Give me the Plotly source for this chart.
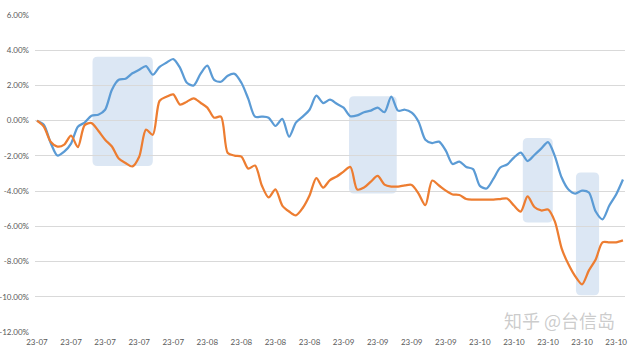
import plotly.graph_objects as go

# ---- data (percent) ----
series_a = [0.00, -0.23, -1.25, -1.98, -1.76, -1.30, -0.34, -0.11, 0.28, 0.34,
            0.62, 1.76, 2.32, 2.38, 2.69, 2.89, 3.10, 2.61, 3.06, 3.29,
            3.50, 3.00, 2.15, 2.00, 2.66, 3.12, 2.32, 2.21, 2.55, 2.66,
            2.15, 1.25, 0.23, 0.23, 0.17, -0.30, 0.10, -0.91, -0.11, 0.23,
            0.62, 1.42, 1.00, 1.19, 0.96, 0.74, 0.25, 0.30, 0.48, 0.57,
            0.74, 0.48, 1.36, 0.57, 0.62, 0.45, -0.06, -1.08, -1.27, -1.19,
            -1.70, -2.46, -2.32, -2.63, -2.75, -3.70, -3.85, -3.29, -2.66, -2.49,
            -2.10, -1.81, -2.29, -1.95, -1.59, -1.22, -2.01, -3.23, -3.91, -4.14,
            -3.97, -4.08, -5.16, -5.60, -4.82, -4.19, -3.34]
series_b = [0.00, -0.34, -1.19, -1.47, -1.36, -0.85, -1.50, -0.25, -0.14, -0.57,
            -1.08, -1.47, -2.15, -2.40, -2.60, -2.05, -0.51, -0.80, 1.13, 1.36,
            1.49, 0.91, 1.08, 1.27, 1.02, 0.74, 0.17, 0.23, -1.84, -1.98,
            -2.04, -2.72, -2.55, -3.68, -4.36, -3.90, -4.82, -5.16, -5.38, -4.96,
            -4.25, -3.26, -3.80, -3.37, -3.17, -2.89, -2.63, -3.91, -3.80, -3.46,
            -3.14, -3.63, -3.74, -3.74, -3.68, -3.65, -4.14, -4.80, -3.40, -3.68,
            -3.97, -4.19, -4.22, -4.45, -4.48, -4.48, -4.48, -4.48, -4.45, -4.42,
            -4.82, -5.16, -4.30, -4.90, -5.10, -5.05, -5.72, -7.25, -8.16, -8.84,
            -9.29, -8.50, -7.88, -6.91, -6.91, -6.91, -6.80]
tick_labels = ["23-07"] * 5 + ["23-08"] * 4 + ["23-09"] * 4 + ["23-10"] * 5
y_ticks = [6, 4, 2, 0, -2, -4, -6, -8, -10, -12]
# highlighted windows: (x0, x1, y0, y1) in data units
highlights = [(8.15, 17.0, -2.58, 3.63),
              (45.8, 52.8, -4.14, 1.39),
              (71.3, 75.7, -5.78, -0.99),
              (79.1, 82.5, -9.92, -2.95)]

x = list(range(len(series_a)))
tick_pos = [i * 5 for i in range(len(tick_labels))]

X_RANGE = [-0.29, 86.3]
Y_RANGE = [-12, 6]
PLOT_W, PLOT_H = 590, 317
rx = 5 * (X_RANGE[1] - X_RANGE[0]) / PLOT_W   # ~5px corner radius in data units
ry = 5 * (Y_RANGE[1] - Y_RANGE[0]) / PLOT_H


def rounded_rect(x0, x1, y0, y1):
    return (f"M {x0+rx},{y0} L {x1-rx},{y0} Q {x1},{y0} {x1},{y0+ry} "
            f"L {x1},{y1-ry} Q {x1},{y1} {x1-rx},{y1} "
            f"L {x0+rx},{y1} Q {x0},{y1} {x0},{y1-ry} "
            f"L {x0},{y0+ry} Q {x0},{y0} {x0+rx},{y0} Z")


fig = go.Figure()
fig.add_trace(go.Scatter(x=x, y=series_a, mode="lines",
                         line=dict(color="#5b9bd5", width=2.25, shape="spline", smoothing=0.8),
                         showlegend=False, hoverinfo="skip"))
fig.add_trace(go.Scatter(x=x, y=series_b, mode="lines",
                         line=dict(color="#ed7d31", width=2.25, shape="spline", smoothing=0.8),
                         showlegend=False, hoverinfo="skip"))

for (x0, x1, y0, y1) in highlights:
    fig.add_shape(type="path", path=rounded_rect(x0, x1, y0, y1), xref="x", yref="y",
                  fillcolor="#dce7f4", line=dict(width=0), layer="below")

fig.add_annotation(text="知乎 @台信岛", xref="paper", yref="paper", x=1.0, y=0.0,
                   xanchor="right", yanchor="bottom", showarrow=False,
                   font=dict(family="Noto Sans CJK SC", size=18, color="rgba(170,170,170,0.6)"),
                   xshift=-8, yshift=-3)

fig.update_layout(
    width=633, height=354,
    margin=dict(l=35, r=8, t=15, b=22),
    paper_bgcolor="white", plot_bgcolor="white",
    font=dict(family="Lato, Open Sans, sans-serif", size=8, color="#595959"),
    xaxis=dict(range=X_RANGE, tickmode="array", tickvals=tick_pos, ticktext=tick_labels,
               showgrid=False, zeroline=False, showline=False, ticks="",
               automargin=False, ticklabelstandoff=4,
               tickfont=dict(size=8, color="#595959")),
    yaxis=dict(range=Y_RANGE, tickmode="array", tickvals=y_ticks,
               ticktext=[f"{v:.2f}%" for v in y_ticks],
               showgrid=True, gridcolor="#d9d9d9", gridwidth=1, zeroline=False,
               showline=False, ticks="", automargin=False, ticklabelstandoff=5,
               tickfont=dict(size=8, color="#595959")),
)

fig.write_html("out.html")
